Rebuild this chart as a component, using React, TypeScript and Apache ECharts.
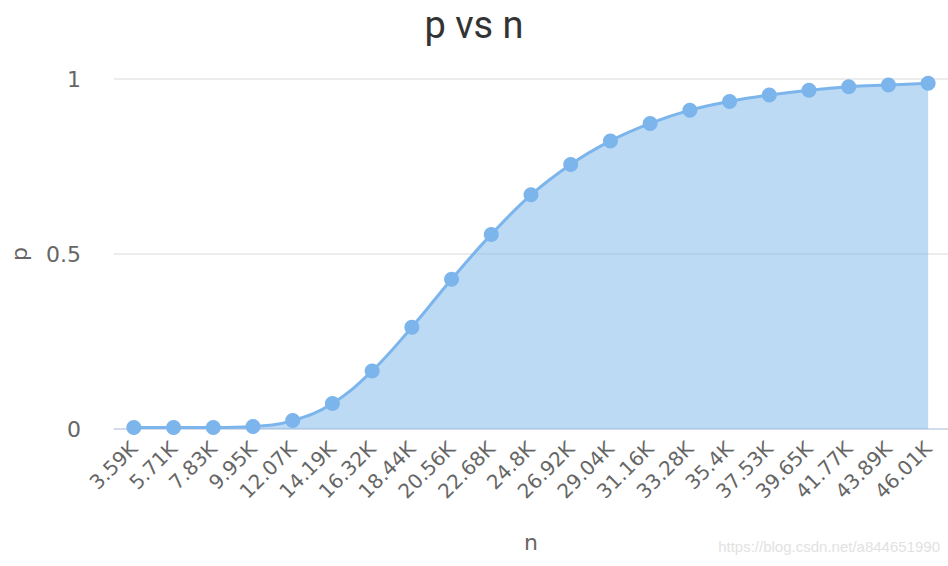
import React, { useEffect, useRef } from "react";
import * as echarts from "echarts";

const nLabels = [
  "3.59K", "5.71K", "7.83K", "9.95K", "12.07K", "14.19K", "16.32K", "18.44K",
  "20.56K", "22.68K", "24.8K", "26.92K", "29.04K", "31.16K", "33.28K", "35.4K",
  "37.53K", "39.65K", "41.77K", "43.89K", "46.01K",
];
const pValues = [
  0.004, 0.004, 0.004, 0.007, 0.024, 0.073, 0.166, 0.291, 0.428, 0.556, 0.669,
  0.756, 0.823, 0.873, 0.911, 0.936, 0.954, 0.968, 0.978, 0.983, 0.988,
];
const titleText = "p vs n";
const xName = "n";
const yName = "p";
const watermark = "https://blog.csdn.net/a844651990";

export default function App() {
  const ref = useRef<HTMLDivElement>(null);
  useEffect(() => {
    if (!ref.current) return;
    const chart = echarts.init(ref.current, undefined, { renderer: "svg" });
    const labelFont = "DejaVu Sans";
    chart.setOption({
      animation: false,
      backgroundColor: "#ffffff",
      title: {
        text: titleText,
        left: "center",
        top: 1,
        textStyle: {
          fontFamily: "Roboto",
          fontSize: 38,
          fontWeight: "normal",
          color: "#333333",
        },
      },
      grid: { left: 108, width: 844, top: 79, bottom: 137, containLabel: false },
      xAxis: {
        type: "category",
        data: nLabels,
        boundaryGap: true,
        name: xName,
        nameLocation: "middle",
        nameGap: 102,
        nameTextStyle: { fontFamily: labelFont, fontSize: 22, color: "#666666" },
        axisLine: { lineStyle: { color: "#ccd6eb", width: 1.5 } },
        axisTick: { alignWithLabel: true, length: 9, lineStyle: { color: "#ccd6eb", width: 1.5 } },
        axisLabel: {
          interval: 0,
          rotate: 45,
          margin: 16,
          fontFamily: labelFont,
          fontSize: 20,
          color: "#666666",
        },
        splitLine: { show: false },
      },
      yAxis: {
        type: "value",
        min: 0,
        max: 1,
        interval: 0.5,
        name: yName,
        nameLocation: "middle",
        nameGap: 84,
        nameTextStyle: { fontFamily: labelFont, fontSize: 22, color: "#666666" },
        axisLine: { show: false },
        axisTick: { show: false },
        axisLabel: { margin: 33, fontFamily: labelFont, fontSize: 22, color: "#666666" },
        splitLine: { lineStyle: { color: "#e6e6e6", width: 1.5 } },
      },
      series: [
        {
          type: "line",
          data: pValues,
          smooth: 0.4,
          symbol: "circle",
          symbolSize: 15,
          itemStyle: { color: "#7cb5ec" },
          lineStyle: { color: "#7cb5ec", width: 3 },
          areaStyle: { color: "#7cb5ec", opacity: 0.5 },
        },
      ],
      graphic: [
        {
          type: "text",
          right: 8,
          top: 539,
          style: {
            text: watermark,
            fontFamily: "Liberation Sans",
            fontSize: 15,
            fill: "#e2e2e2",
          },
        },
      ],
    });
    return () => chart.dispose();
  }, []);
  return <div ref={ref} style={{ width: 948, height: 566, position: "absolute", left: 0, top: 0 }} />;
}
